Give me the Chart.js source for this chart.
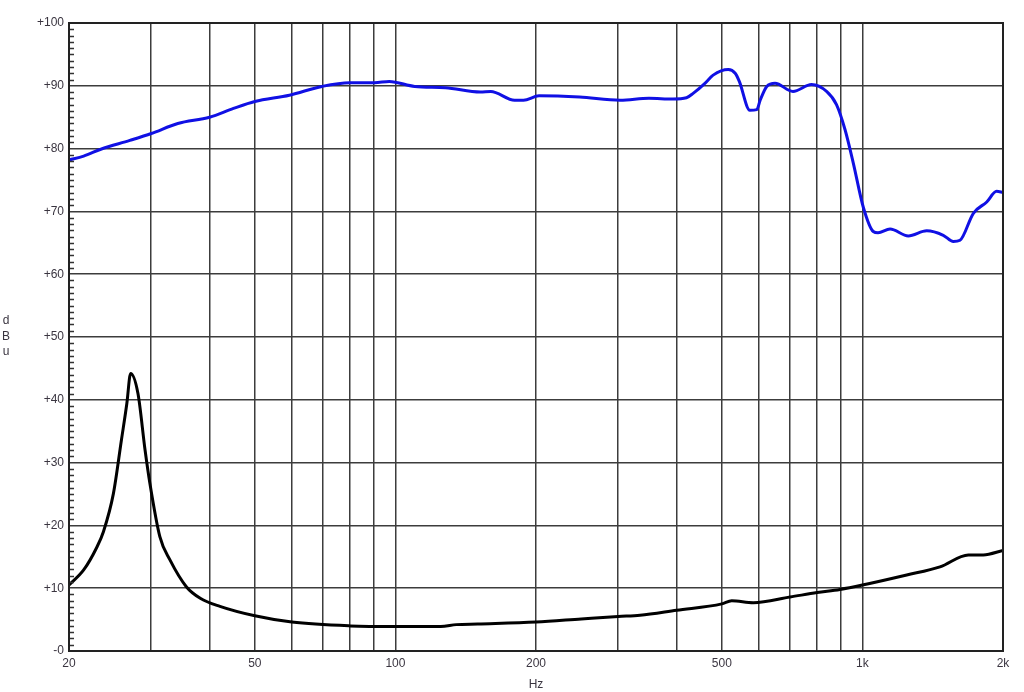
<!DOCTYPE html>
<html>
<head>
<meta charset="utf-8">
<script src="https://cdn.jsdelivr.net/npm/chart.js@4.4.1/dist/chart.umd.min.js"></script>
<style>
    body { margin: 0; background: #fff; }
    #wrap { width: 1024px; height: 692px; }
</style>
</head>
<body>
<div id="wrap"><canvas id="chart" width="1024" height="692"></canvas></div>
<script>
// frequency response (blue) and impedance-like curve (black)
const freqBlue = [20, 21.5, 23.4, 27, 30, 34.2, 40, 45, 50, 59.3, 69.6, 79.8, 90.3, 97, 110, 128, 152, 160, 180, 188, 203, 248, 303, 349, 393, 420, 434, 460, 479, 516, 534, 545, 574, 594, 604, 624, 650, 710, 778, 838, 880, 918, 956, 1004, 1055, 1080, 1146, 1254, 1373, 1490, 1566, 1618, 1728, 1846, 1938, 2000];
const levelBlue = [78.2, 78.8, 79.9, 81.3, 82.4, 84.0, 85.0, 86.4, 87.5, 88.5, 89.9, 90.5, 90.5, 90.7, 89.9, 89.7, 89.0, 89.1, 87.7, 87.7, 88.4, 88.2, 87.7, 88.0, 87.9, 88.1, 88.8, 90.4, 91.7, 92.6, 92.0, 90.7, 86.1, 86.2, 87.7, 89.9, 90.4, 89.1, 90.2, 89.1, 87.0, 83.0, 77.7, 70.7, 66.8, 66.6, 67.2, 66.1, 66.9, 66.2, 65.2, 65.4, 69.7, 71.5, 73.2, 73.0];

const freqBlack = [20, 21.5, 22.9, 23.7, 24.9, 25.9, 26.6, 27.1, 28.1, 29.1, 29.8, 31.3, 32.9, 35.7, 38.2, 42.1, 50, 60, 80, 100, 125, 135, 150, 200, 250, 300, 334, 400, 500, 525, 584, 700, 800, 895, 1000, 1244, 1466, 1686, 1815, 2000];
const levelBlack = [10.5, 12.9, 16.4, 19.0, 25.1, 33.6, 39.4, 44.2, 41.0, 32.0, 26.7, 18.2, 14.5, 10.2, 8.4, 7.1, 5.6, 4.6, 4.0, 3.9, 3.9, 4.2, 4.3, 4.6, 5.1, 5.5, 5.7, 6.5, 7.5, 8.0, 7.7, 8.6, 9.3, 9.8, 10.5, 12.1, 13.4, 15.3, 15.3, 16.0];

const xTickValues = [20, 30, 40, 50, 60, 70, 80, 90, 100, 200, 300, 400, 500, 600, 700, 800, 900, 1000, 2000];
const xTickLabels = { 20: "20", 50: "50", 100: "100", 200: "200", 500: "500", 1000: "1k", 2000: "2k" };
const yTitleLetters = ["d", "B", "u"];

const toPoints = (xs, ys) => xs.map((x, i) => ({ x: x, y: ys[i] }));

const textColor = "#3a3540";
const font = { family: "Arial, 'Liberation Sans', sans-serif", size: 12 };

const extrasPlugin = {
    id: "extras",
    afterDraw(chart) {
        const ctx = chart.ctx;
        const y = chart.scales.y;
        const left = chart.chartArea.left;
        ctx.save();
        // small ticks every 1 dB, inside the plot
        ctx.strokeStyle = "#333";
        ctx.lineWidth = 1.5;
        ctx.beginPath();
        for (let v = 1; v < 100; v++) {
            if (v % 10 === 0) continue;
            const py = Math.round(y.getPixelForValue(v)) + 0.5;
            ctx.moveTo(left, py);
            ctx.lineTo(left + 5, py);
        }
        ctx.stroke();
        // frame
        ctx.strokeStyle = "#222";
        ctx.lineWidth = 2;
        const a = chart.chartArea;
        ctx.strokeRect(a.left, a.top, a.right - a.left, a.bottom - a.top);
        // stacked y-axis title
        ctx.fillStyle = textColor;
        ctx.font = "12px Arial, 'Liberation Sans', sans-serif";
        ctx.textAlign = "center";
        ctx.textBaseline = "middle";
        yTitleLetters.forEach((ch, i) => ctx.fillText(ch, 6, 321 + i * 15.5));
        ctx.restore();
    }
};

new Chart(document.getElementById("chart"), {
    type: "line",
    data: {
        datasets: [
            {
                label: "Response",
                data: toPoints(freqBlue, levelBlue),
                borderColor: "#1010e4",
                borderWidth: 3,
                pointRadius: 0,
                cubicInterpolationMode: "monotone"
            },
            {
                label: "Impedance",
                data: toPoints(freqBlack, levelBlack),
                borderColor: "#000",
                borderWidth: 3,
                pointRadius: 0,
                cubicInterpolationMode: "monotone"
            }
        ]
    },
    options: {
        responsive: false,
        animation: false,
        layout: { padding: { top: 23, right: 21, left: 0, bottom: 0 } },
        plugins: {
            legend: { display: false },
            tooltip: { enabled: false }
        },
        scales: {
            x: {
                type: "logarithmic",
                min: 20,
                max: 2000,
                afterBuildTicks: (scale) => {
                    scale.ticks = xTickValues.map((v) => ({ value: v }));
                },
                afterFit: (scale) => { scale.height = 41; },
                ticks: {
                    autoSkip: false,
                    maxRotation: 0,
                    padding: 5,
                    color: textColor,
                    font: font,
                    callback: (value) => xTickLabels[value] || ""
                },
                grid: {
                    drawTicks: false,
                    color: "#3c3c3c",
                    lineWidth: 1.5
                },
                border: { display: false },
                title: {
                    display: true,
                    text: "Hz",
                    color: textColor,
                    font: font,
                    padding: { top: 4, bottom: 0 }
                }
            },
            y: {
                min: 0,
                max: 100,
                afterFit: (scale) => { scale.width = 69; },
                ticks: {
                    stepSize: 10,
                    padding: 5,
                    color: textColor,
                    font: font,
                    callback: (value) => (value === 0 ? "-0" : "+" + value)
                },
                grid: {
                    drawTicks: false,
                    color: "#3c3c3c",
                    lineWidth: 1.5
                },
                border: { display: false }
            }
        }
    },
    plugins: [extrasPlugin]
});
</script>
</body>
</html>
